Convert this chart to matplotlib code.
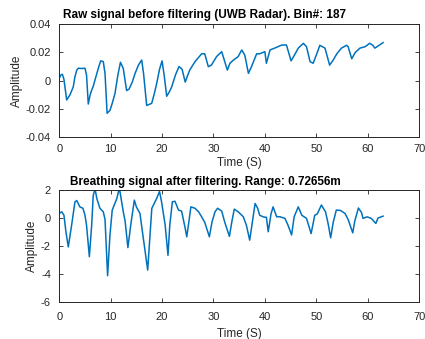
import numpy as np
import matplotlib
matplotlib.use("Agg")
import matplotlib.pyplot as plt

plt.rcParams['font.family'] = ['Liberation Sans', 'DejaVu Sans']
plt.rcParams['axes.unicode_minus'] = False

# raw radar signal (time in s, amplitude)
raw_t = [0.0, 0.3, 0.6, 0.9, 1.44, 2.08, 2.72, 3.0, 3.39, 3.7, 4.36, 5.0, 5.3, 5.64, 6.0,
         6.3, 6.6, 7.3, 7.7, 8.05, 8.56, 8.9, 9.3, 9.86, 10.3, 10.84, 11.4, 11.9, 12.45,
         13.1, 13.56, 14.2, 14.73, 15.4, 16.03, 16.4, 17.0, 17.98, 18.5, 18.95, 19.5, 20.0,
         20.4, 20.9, 21.4, 21.87, 22.6, 23.3, 23.9, 24.5, 25.0, 25.4, 26.4, 27.0, 27.7,
         28.3, 29.0, 29.6, 30.6, 31.6, 32.7, 33.2, 33.9, 34.8, 35.5, 36.1, 36.8, 37.4,
         38.4, 39.0, 40.0, 40.3, 41.0, 41.9, 43.3, 44.2, 45.1, 45.9, 46.5, 47.5, 48.1,
         48.8, 49.4, 50.1, 50.7, 51.7, 52.6, 53.3, 54.0, 54.9, 55.9, 56.2, 56.9, 57.6,
         58.5, 59.5, 60.4, 61.0, 61.4, 62.1, 63.0]
raw_v = [0.0017, 0.004, 0.0045, 0.001, -0.0136, -0.010, -0.0044, 0.002, 0.0074, 0.0088,
         0.0086, 0.0088, 0.004, -0.0165, -0.010, -0.0067, -0.004, 0.005, 0.010, 0.014,
         0.0135, 0.005, -0.023, -0.021, -0.016, -0.009, 0.004, 0.013, 0.0086, -0.007,
         -0.006, -0.001, 0.005, 0.011, 0.0146, 0.005, -0.0175, -0.016, -0.009, -0.002,
         0.008, 0.014, 0.004, -0.011, -0.008, -0.0044, 0.004, 0.010, 0.008, -0.001, 0.004,
         0.0076, 0.0134, 0.016, 0.019, 0.019, 0.0099, 0.011, 0.017, 0.0205, 0.0075,
         0.0123, 0.0146, 0.017, 0.0217, 0.018, 0.0052, 0.0099, 0.019, 0.019, 0.0205,
         0.0123, 0.0217, 0.023, 0.0252, 0.0252, 0.014, 0.019, 0.023, 0.0264, 0.024,
         0.0134, 0.0123, 0.019, 0.025, 0.023, 0.011, 0.0146, 0.019, 0.023, 0.025, 0.024,
         0.0155, 0.020, 0.023, 0.024, 0.0264, 0.025, 0.023, 0.0247, 0.0269]

# breathing signal after filtering
br_t = [0.0, 0.47, 0.91, 1.3, 1.75, 2.4, 3.05, 3.4, 4.0, 4.6, 5.0, 5.3, 5.85, 6.3, 6.6,
        6.95, 7.3, 7.9, 8.56, 8.9, 9.4, 9.86, 10.3, 11.2, 11.6, 11.8, 12.45, 12.8, 13.35,
        13.9, 14.6, 15.0, 15.7, 16.0, 17.2, 17.7, 18.0, 18.95, 19.5, 19.9, 20.6, 21.15,
        21.5, 22.0, 22.5, 23.2, 23.8, 24.5, 24.8, 25.2, 25.6, 26.4, 27.1, 27.7, 28.3,
        29.2, 29.7, 30.3, 30.8, 31.6, 32.2, 33.1, 33.6, 34.05, 34.8, 35.8, 36.4, 37.05,
        37.6, 38.1, 38.6, 39.0, 39.7, 40.3, 40.65, 41.2, 41.6, 42.3, 42.9, 43.9, 44.5,
        45.2, 45.7, 46.5, 47.2, 48.1, 49.0, 49.7, 50.2, 51.0, 51.8, 52.3, 52.8, 53.3,
        53.9, 54.7, 55.6, 56.2, 57.1, 57.5, 58.2, 58.8, 59.1, 59.9, 60.7, 61.6, 62.0, 63.0]
br_v = [0.33, 0.45, 0.2, -1.0, -2.05, -0.5, 1.16, 1.25, 0.8, 0.7, 0.2, -0.5, -2.75, -0.5,
        1.6, 2.1, 1.4, 0.7, 0.45, -0.1, -4.1, -1.2, 0.57, 1.4, 2.0, 1.9, 0.45, -0.2, -2.1,
        -0.5, 1.28, 0.8, 0.33, -0.5, -3.7, -0.95, 0.69, 1.4, 1.9, 1.16, -0.5, -2.65, -0.5,
        1.16, 1.2, 0.57, 0.5, -0.73, -1.33, -0.3, 0.8, 0.7, 0.45, 0.09, -0.3, -1.33, -0.3,
        0.45, 0.7, 0.5, -0.3, -1.3, -0.2, 0.64, 0.45, 0.1, -0.5, -1.57, -0.2, 1.04, 0.7,
        0.2, 0.09, 0.05, -0.97, 0.3, 0.8, 0.09, 0.1, -0.02, -0.5, -1.2, 0.1, 0.8, 0.2,
        -0.02, -1.1, 0.2, 0.3, 0.93, 0.45, -0.38, -1.4, -0.3, 0.57, 0.55, 0.33, -0.1,
        -1.05, -0.2, 0.72, 0.4, -0.02, 0.09, -0.02, -0.38, 0.0, 0.14]

bin_no = 187
rng_m = 0.72656
blue = '#0072BD'

fig = plt.figure(figsize=(4.25, 3.39), dpi=100)
ax1 = fig.add_axes([0.1395, 0.595, 0.8465, 0.334])
ax2 = fig.add_axes([0.1395, 0.108, 0.8465, 0.3315])


def matlab_look(ax, xpad):
    ax.set_xlim(0, 70)
    ax.set_xticks(range(0, 71, 10))
    ax.tick_params(direction='in', length=3, width=0.6, top=True, right=True,
                   labelsize=8, colors='#262626')
    ax.tick_params(axis='x', pad=xpad)
    ax.tick_params(axis='y', pad=6)
    for s in ax.spines.values():
        s.set_linewidth(0.7)
        s.set_color('#262626')
    ax.set_xlabel('Time (S)', fontsize=8.5, labelpad=2, color='#262626')
    ax.set_ylabel('Amplitude', fontsize=8.5, labelpad=2, color='#262626')


ax1.plot(raw_t, raw_v, color=blue, lw=1.1)
ax1.set_ylim(-0.04, 0.04)
ax1.set_yticks([-0.04, -0.02, 0, 0.02, 0.04])
ax1.set_yticklabels(['-0.04', '-0.02', '0', '0.02', '0.04'])
matlab_look(ax1, 5)
ax1.text(0.405, 1.03, f'Raw signal before filtering (UWB Radar). Bin#: {bin_no}',
         transform=ax1.transAxes, ha='center', va='bottom',
         fontsize=8.5, fontweight='bold')

ax2.plot(br_t, br_v, color=blue, lw=1.1)
ax2.set_ylim(-6, 2)
ax2.set_yticks([-6, -4, -2, 0, 2])
matlab_look(ax2, 7)
ax2.xaxis.labelpad = 4
ax2.text(0.405, 1.02, f'Breathing signal after filtering. Range: {rng_m}m',
         transform=ax2.transAxes, ha='center', va='bottom',
         fontsize=8.5, fontweight='bold')

fig.savefig('out.png', dpi=100)
